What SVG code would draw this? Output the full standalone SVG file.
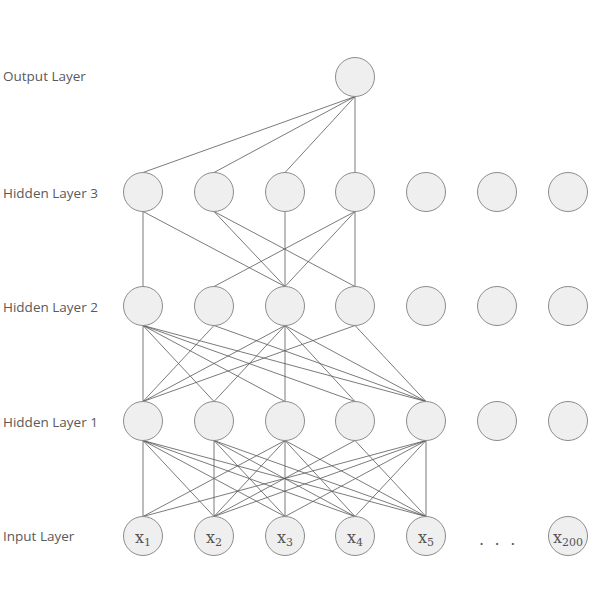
<svg xmlns="http://www.w3.org/2000/svg" width="600" height="600" viewBox="0 0 600 600">
<style>
.bg{fill:#ffffff}
.n{fill:#efefef;stroke:#8c8c8c;stroke-width:1}
.e line{stroke:#595959;stroke-width:0.8}
.lbl{font-family:"Open Sans","DejaVu Sans",sans-serif;font-size:13.5px;fill:#5a5a5a}
.xl{font-family:"DejaVu Serif","Liberation Serif",serif;font-size:16px;fill:#555555;text-anchor:middle}
.sub{font-size:11px}
</style>
<rect class="bg" x="0" y="0" width="600" height="600"/>
<g id="connectors" class="e">
<line x1="355" y1="96.5" x2="143" y2="172.5"/>
<line x1="355" y1="96.5" x2="214" y2="172.5"/>
<line x1="355" y1="96.5" x2="285" y2="172.5"/>
<line x1="355" y1="96.5" x2="355" y2="172.5"/>
<line x1="143" y1="211.5" x2="143" y2="286.5"/>
<line x1="143" y1="211.5" x2="285" y2="286.5"/>
<line x1="214" y1="211.5" x2="285" y2="286.5"/>
<line x1="214" y1="211.5" x2="355" y2="286.5"/>
<line x1="285" y1="211.5" x2="285" y2="286.5"/>
<line x1="355" y1="211.5" x2="214" y2="286.5"/>
<line x1="355" y1="211.5" x2="285" y2="286.5"/>
<line x1="355" y1="211.5" x2="355" y2="286.5"/>
<line x1="143" y1="325.5" x2="143" y2="401.5"/>
<line x1="143" y1="325.5" x2="214" y2="401.5"/>
<line x1="143" y1="325.5" x2="285" y2="401.5"/>
<line x1="143" y1="325.5" x2="355" y2="401.5"/>
<line x1="143" y1="325.5" x2="426" y2="401.5"/>
<line x1="214" y1="325.5" x2="143" y2="401.5"/>
<line x1="214" y1="325.5" x2="426" y2="401.5"/>
<line x1="285" y1="325.5" x2="143" y2="401.5"/>
<line x1="285" y1="325.5" x2="214" y2="401.5"/>
<line x1="285" y1="325.5" x2="285" y2="401.5"/>
<line x1="285" y1="325.5" x2="355" y2="401.5"/>
<line x1="285" y1="325.5" x2="426" y2="401.5"/>
<line x1="355" y1="325.5" x2="143" y2="401.5"/>
<line x1="355" y1="325.5" x2="426" y2="401.5"/>
<line x1="143" y1="440.5" x2="143" y2="516.5"/>
<line x1="143" y1="440.5" x2="214" y2="516.5"/>
<line x1="143" y1="440.5" x2="285" y2="516.5"/>
<line x1="143" y1="440.5" x2="355" y2="516.5"/>
<line x1="143" y1="440.5" x2="426" y2="516.5"/>
<line x1="214" y1="440.5" x2="214" y2="516.5"/>
<line x1="214" y1="440.5" x2="285" y2="516.5"/>
<line x1="214" y1="440.5" x2="355" y2="516.5"/>
<line x1="214" y1="440.5" x2="426" y2="516.5"/>
<line x1="285" y1="440.5" x2="143" y2="516.5"/>
<line x1="285" y1="440.5" x2="214" y2="516.5"/>
<line x1="285" y1="440.5" x2="285" y2="516.5"/>
<line x1="285" y1="440.5" x2="355" y2="516.5"/>
<line x1="285" y1="440.5" x2="426" y2="516.5"/>
<line x1="355" y1="440.5" x2="214" y2="516.5"/>
<line x1="355" y1="440.5" x2="426" y2="516.5"/>
<line x1="426" y1="440.5" x2="143" y2="516.5"/>
<line x1="426" y1="440.5" x2="214" y2="516.5"/>
<line x1="426" y1="440.5" x2="285" y2="516.5"/>
<line x1="426" y1="440.5" x2="355" y2="516.5"/>
<line x1="426" y1="440.5" x2="426" y2="516.5"/>
</g>
<g id="layer-labels">
<text class="lbl" x="3" y="81">Output Layer</text>
<text class="lbl" x="3" y="197.5">Hidden Layer 3</text>
<text class="lbl" x="3" y="312">Hidden Layer 2</text>
<text class="lbl" x="3" y="427">Hidden Layer 1</text>
<text class="lbl" x="3" y="541">Input Layer</text>
</g>
<g id="output"><circle class="n" cx="355" cy="77" r="19.5"/></g>
<g id="h3-1"><circle class="n" cx="143" cy="192" r="19.5"/></g>
<g id="h3-2"><circle class="n" cx="214" cy="192" r="19.5"/></g>
<g id="h3-3"><circle class="n" cx="285" cy="192" r="19.5"/></g>
<g id="h3-4"><circle class="n" cx="355" cy="192" r="19.5"/></g>
<g id="h3-5"><circle class="n" cx="426" cy="192" r="19.5"/></g>
<g id="h3-6"><circle class="n" cx="497" cy="192" r="19.5"/></g>
<g id="h3-7"><circle class="n" cx="568" cy="192" r="19.5"/></g>
<g id="h2-1"><circle class="n" cx="143" cy="306" r="19.5"/></g>
<g id="h2-2"><circle class="n" cx="214" cy="306" r="19.5"/></g>
<g id="h2-3"><circle class="n" cx="285" cy="306" r="19.5"/></g>
<g id="h2-4"><circle class="n" cx="355" cy="306" r="19.5"/></g>
<g id="h2-5"><circle class="n" cx="426" cy="306" r="19.5"/></g>
<g id="h2-6"><circle class="n" cx="497" cy="306" r="19.5"/></g>
<g id="h2-7"><circle class="n" cx="568" cy="306" r="19.5"/></g>
<g id="h1-1"><circle class="n" cx="143" cy="421" r="19.5"/></g>
<g id="h1-2"><circle class="n" cx="214" cy="421" r="19.5"/></g>
<g id="h1-3"><circle class="n" cx="285" cy="421" r="19.5"/></g>
<g id="h1-4"><circle class="n" cx="355" cy="421" r="19.5"/></g>
<g id="h1-5"><circle class="n" cx="426" cy="421" r="19.5"/></g>
<g id="h1-6"><circle class="n" cx="497" cy="421" r="19.5"/></g>
<g id="h1-7"><circle class="n" cx="568" cy="421" r="19.5"/></g>
<g id="in-1"><circle class="n" cx="143" cy="536" r="19.5"/><text class="xl" x="143" y="543">x<tspan class="sub" dy="2.5">1</tspan></text></g>
<g id="in-2"><circle class="n" cx="214" cy="536" r="19.5"/><text class="xl" x="214" y="543">x<tspan class="sub" dy="2.5">2</tspan></text></g>
<g id="in-3"><circle class="n" cx="285" cy="536" r="19.5"/><text class="xl" x="285" y="543">x<tspan class="sub" dy="2.5">3</tspan></text></g>
<g id="in-4"><circle class="n" cx="355" cy="536" r="19.5"/><text class="xl" x="355" y="543">x<tspan class="sub" dy="2.5">4</tspan></text></g>
<g id="in-5"><circle class="n" cx="426" cy="536" r="19.5"/><text class="xl" x="426" y="543">x<tspan class="sub" dy="2.5">5</tspan></text></g>
<g id="ellipsis"><text class="xl" x="498.5" y="545" style="font-size:16px;letter-spacing:2.7px">. . .</text></g>
<g id="in-200"><circle class="n" cx="568" cy="536" r="19.5"/><text class="xl" x="568" y="543">x<tspan class="sub" dy="2.5">200</tspan></text></g>
</svg>
